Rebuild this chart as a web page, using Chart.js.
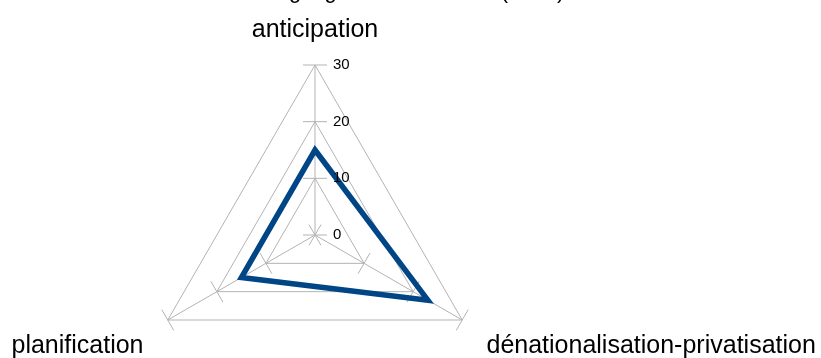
<!DOCTYPE html>
<html>
<head>
<meta charset="utf-8">
<script src="https://cdn.jsdelivr.net/npm/chart.js@4.4.0/dist/chart.umd.min.js"></script>
<style>
body { margin: 0; overflow: hidden; background: #fff; width: 821px; height: 358px; }
#wrap { position: absolute; left: 0; top: -30px; width: 821px; height: 440px; }
</style>
</head>
<body>
<div id="wrap"><canvas id="mycanvas" width="821" height="440"></canvas></div>
<script>
var chartTitle = "Scores de la stratégie gouvernementale (1986)";
var axes = ["anticipation", "dénationalisation-privatisation", "planification"];
var scores = [15, 23, 15];
var scaleMin = 0;
var scaleMax = 30;
var scaleStep = 10;

var fontFamily = "'Liberation Sans', Arial, sans-serif";
var gridGrey = "#b3b3b3";

// extras the radar scale does not draw by itself:
// cross marks on every axis, tick labels right of the axis, axis labels, title
var radarExtras = {
    id: "radarExtras",
    beforeDatasetsDraw: function(chart) {
        var s = chart.scales.r;
        var ctx = chart.ctx;
        ctx.save();
        ctx.strokeStyle = gridGrey;
        ctx.lineWidth = 1;
        for (var i = 0; i < axes.length; i++) {
            var a = s.getIndexAngle(i);
            var dx = Math.cos(a) * 12;
            var dy = Math.sin(a) * 12;
            s.ticks.forEach(function(t) {
                var p = s.getPointPositionForValue(i, t.value);
                ctx.beginPath();
                ctx.moveTo(p.x - dx, p.y - dy);
                ctx.lineTo(p.x + dx, p.y + dy);
                ctx.stroke();
            });
        }
        ctx.restore();
    },
    afterDatasetsDraw: function(chart) {
        var s = chart.scales.r;
        var ctx = chart.ctx;
        ctx.save();
        ctx.fillStyle = "#000";

        // tick labels
        ctx.font = "15px " + fontFamily;
        ctx.textAlign = "left";
        ctx.textBaseline = "middle";
        s.ticks.forEach(function(t) {
            var p = s.getPointPositionForValue(0, t.value);
            ctx.fillText(String(t.value), s.xCenter + 18, p.y);
        });

        // axis labels
        ctx.font = "25px " + fontFamily;
        for (var i = 0; i < axes.length; i++) {
            var p = s.getPointPosition(i, s.drawingArea + 28);
            if (Math.abs(p.x - s.xCenter) < 1) {
                ctx.textAlign = "center";
                ctx.textBaseline = "alphabetic";
            } else {
                ctx.textAlign = p.x > s.xCenter ? "left" : "right";
                ctx.textBaseline = "top";
            }
            ctx.fillText(axes[i], p.x, p.y);
        }

        // title (mostly above the visible area)
        ctx.font = "22px " + fontFamily;
        ctx.textAlign = "center";
        ctx.textBaseline = "alphabetic";
        ctx.fillText(chartTitle, s.xCenter + 20, 28);
        ctx.restore();
    }
};

var chartdata = {
    labels: axes,
    datasets: [
        {
            label: "Scores",
            data: scores,
            fill: false,
            borderColor: "#004586",
            backgroundColor: "#004586",
            borderWidth: 5.5,
            borderJoinStyle: "miter",
            pointRadius: 0,
            pointHoverRadius: 0
        }
    ]
};

var ctx = document.getElementById("mycanvas");

var RadarGraph = new Chart(ctx, {
    type: "radar",
    data: chartdata,
    options: {
        responsive: false,
        animation: false,
        devicePixelRatio: 1,
        layout: { padding: { left: 145, right: 336, top: 95, bottom: 5 } },
        plugins: {
            legend: { display: false },
            title: { display: false },
            tooltip: { enabled: false }
        },
        scales: {
            r: {
                min: scaleMin,
                max: scaleMax,
                ticks: { display: false, stepSize: scaleStep },
                pointLabels: { display: false },
                grid: { color: gridGrey, lineWidth: 1 },
                angleLines: { color: gridGrey, lineWidth: 1 }
            }
        }
    },
    plugins: [radarExtras]
});
</script>
</body>
</html>
